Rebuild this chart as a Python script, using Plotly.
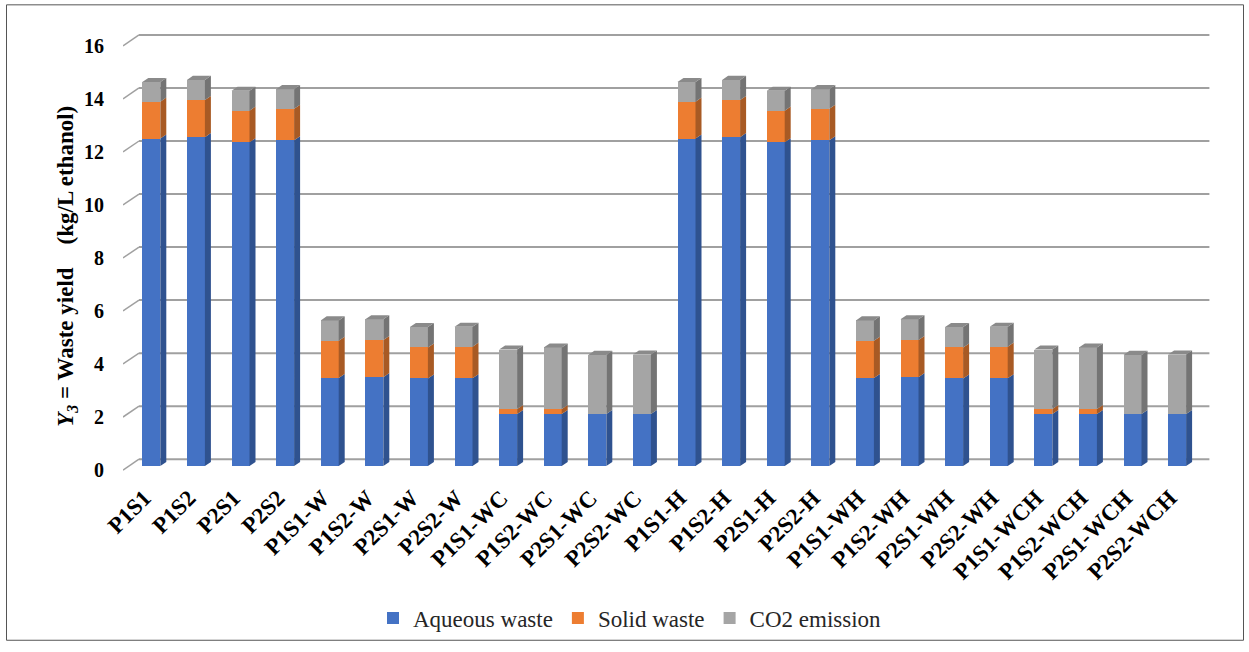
import plotly.graph_objects as go

# ---- data -------------------------------------------------------------
categories = ["P1S1", "P1S2", "P2S1", "P2S2",
              "P1S1-W", "P1S2-W", "P2S1-W", "P2S2-W",
              "P1S1-WC", "P1S2-WC", "P2S1-WC", "P2S2-WC",
              "P1S1-H", "P1S2-H", "P2S1-H", "P2S2-H",
              "P1S1-WH", "P1S2-WH", "P2S1-WH", "P2S2-WH",
              "P1S1-WCH", "P1S2-WCH", "P2S1-WCH", "P2S2-WCH"]

aqueous_waste = [12.35, 12.40, 12.21, 12.28,
                 3.32, 3.35, 3.30, 3.31,
                 1.96, 1.96, 1.96, 1.96,
                 12.35, 12.40, 12.21, 12.28,
                 3.32, 3.35, 3.30, 3.31,
                 1.96, 1.96, 1.96, 1.96]
solid_waste = [1.39, 1.40, 1.19, 1.19,
               1.40, 1.40, 1.17, 1.19,
               0.19, 0.19, 0.00, 0.00,
               1.39, 1.40, 1.19, 1.19,
               1.40, 1.40, 1.17, 1.19,
               0.19, 0.19, 0.00, 0.00]
co2_emission = [0.74, 0.76, 0.75, 0.74,
                0.77, 0.78, 0.77, 0.75,
                2.24, 2.32, 2.23, 2.24,
                0.74, 0.76, 0.75, 0.74,
                0.77, 0.78, 0.77, 0.75,
                2.24, 2.32, 2.23, 2.24]

series_names = ["Aqueous waste", "Solid waste", "CO2 emission"]
y_ticks = [0, 2, 4, 6, 8, 10, 12, 14, 16]

# ---- styling / geometry (pixels) --------------------------------------
FRONT_COLORS = ["#4472C4", "#ED7D31", "#A5A5A5"]
SIDE_COLORS = ["#2F528F", "#A85A24", "#747474"]
TOP_COLOR = "#8A8A8A"
GRID_COLOR = "#A0A0A0"
SERIF = "Liberation Serif, Times New Roman, serif"

W_FIG, H_FIG = 1249, 652
PX_L, PX_R, PX_T, PX_B = 123, 1210, 30, 480   # plot area
BACK_X0 = 139          # left edge of back wall
PITCH = 44.6           # px per category
Y0_PX = 465            # value 0 on back wall
YU = 26.875            # px per unit of value
DEPTH_DX, DEPTH_DY = -16.0, 11.0     # back wall -> front edge (px, screen)
BAR_FRONT = (-10.0, 6.875)           # bar front face relative to back wall
BAR_BACK = (-4.0, 2.75)              # bar back face relative to back wall
BAR_W_PX = 18.0
XLABEL_SHIFT_PX = -17.0              # category labels sit under the bar front

def dx(px):
    return px / PITCH

def dy(px_down):
    return -px_down / YU

def paper_x(px):
    return (px - PX_L) / (PX_R - PX_L)

def paper_y(px):
    return (PX_B - px) / (PX_B - PX_T)

x_range = [-0.5 - dx(BACK_X0 - PX_L), -0.5 + dx(PX_R - BACK_X0)]
y_range = [dy(PX_B - Y0_PX), dy(PX_T - Y0_PX)]

fig = go.Figure()

series = [aqueous_waste, solid_waste, co2_emission]
n = len(categories)
xs = list(range(n))
bar_w = dx(BAR_W_PX)
f_dx, f_dy = dx(BAR_FRONT[0]), dy(BAR_FRONT[1])
b_dx, b_dy = dx(BAR_BACK[0]), dy(BAR_BACK[1])
d_dx, d_dy = b_dx - f_dx, b_dy - f_dy    # bar depth

# stacked bottoms
bottoms = []
running = [0.0] * n
for vals in series:
    bottoms.append(list(running))
    running = [r + v for r, v in zip(running, vals)]
totals = running

# front faces
for k, (name, vals) in enumerate(zip(series_names, series)):
    fig.add_trace(go.Bar(
        x=xs, y=vals,
        base=[b + f_dy for b in bottoms[k]],
        width=bar_w, offset=f_dx - bar_w / 2,
        marker=dict(color=FRONT_COLORS[k], line=dict(width=0)),
        name=name, hoverinfo="skip",
    ))

# side faces
for k, vals in enumerate(series):
    px_, py_ = [], []
    for i in range(n):
        if vals[i] <= 0:
            continue
        xr = i + f_dx + bar_w / 2
        yb = bottoms[k][i] + f_dy
        yt = yb + vals[i]
        px_ += [xr, xr + d_dx, xr + d_dx, xr, None]
        py_ += [yb, yb + d_dy, yt + d_dy, yt, None]
    fig.add_trace(go.Scatter(
        x=px_, y=py_, mode="lines", fill="toself",
        fillcolor=SIDE_COLORS[k], line=dict(width=0, color=SIDE_COLORS[k]),
        showlegend=False, hoverinfo="skip",
    ))

# top faces of each stack
tx, ty = [], []
for i in range(n):
    xl = i + f_dx - bar_w / 2
    xr = xl + bar_w
    yt = totals[i] + f_dy
    tx += [xl, xl + d_dx, xr + d_dx, xr, None]
    ty += [yt, yt + d_dy, yt + d_dy, yt, None]
fig.add_trace(go.Scatter(
    x=tx, y=ty, mode="lines", fill="toself",
    fillcolor=TOP_COLOR, line=dict(width=0, color=TOP_COLOR),
    showlegend=False, hoverinfo="skip",
))

# back-wall gridlines and the short depth ticks on the left wall
shapes = []
for v in y_ticks:
    shapes.append(dict(type="line", layer="below", xref="x", yref="y",
                       x0=-0.5, x1=n - 0.5, y0=v, y1=v,
                       line=dict(color=GRID_COLOR, width=2)))
    shapes.append(dict(type="line", layer="below", xref="x", yref="y",
                       x0=-0.5 + dx(DEPTH_DX), x1=-0.5,
                       y0=v + dy(DEPTH_DY), y1=v,
                       line=dict(color=GRID_COLOR, width=1.5)))
# chart frame
shapes.append(dict(type="rect", xref="paper", yref="paper",
                   x0=paper_x(6.5), x1=paper_x(1243.5),
                   y0=paper_y(648.5), y1=paper_y(4.5),
                   line=dict(color="#555555", width=1), layer="above"))

fig.update_layout(
    width=W_FIG, height=H_FIG,
    margin=dict(l=PX_L, r=W_FIG - PX_R, t=PX_T, b=H_FIG - PX_B, pad=0),
    paper_bgcolor="white", plot_bgcolor="white",
    barmode="overlay", bargap=0,
    shapes=shapes,
    showlegend=True,
    legend=dict(orientation="h", x=paper_x(630), xanchor="center",
                y=paper_y(626), yanchor="middle", bgcolor="rgba(0,0,0,0)",
                font=dict(family=SERIF, size=23, color="#262626"),
                traceorder="normal", itemclick=False),
    xaxis=dict(range=x_range, tickmode="array",
               tickvals=[i + dx(XLABEL_SHIFT_PX) for i in xs], ticktext=categories,
               tickangle=-45, showgrid=False, zeroline=False, showline=False,
               ticks="", ticklabelstandoff=5, fixedrange=True,
               tickfont=dict(family=SERIF, size=23, color="black", weight="bold")),
    yaxis=dict(range=y_range, tickmode="array",
               tickvals=[v + dy(DEPTH_DY) for v in y_ticks],
               ticktext=[str(v) for v in y_ticks],
               showgrid=False, zeroline=False, showline=False, ticks="",
               ticklabelstandoff=18, fixedrange=True,
               tickfont=dict(family=SERIF, size=20, color="black", weight="bold")),
    annotations=[dict(
        text="<i>Y<sub>3</sub></i> = Waste yield\u00a0\u00a0\u00a0\u00a0(kg/L ethanol)",
        xref="paper", yref="paper",
        x=paper_x(67), y=paper_y(270),
        xanchor="center", yanchor="middle", textangle=-90, showarrow=False,
        font=dict(family=SERIF, size=23, color="black", weight="bold"))],
)

fig.write_html("out.html")
